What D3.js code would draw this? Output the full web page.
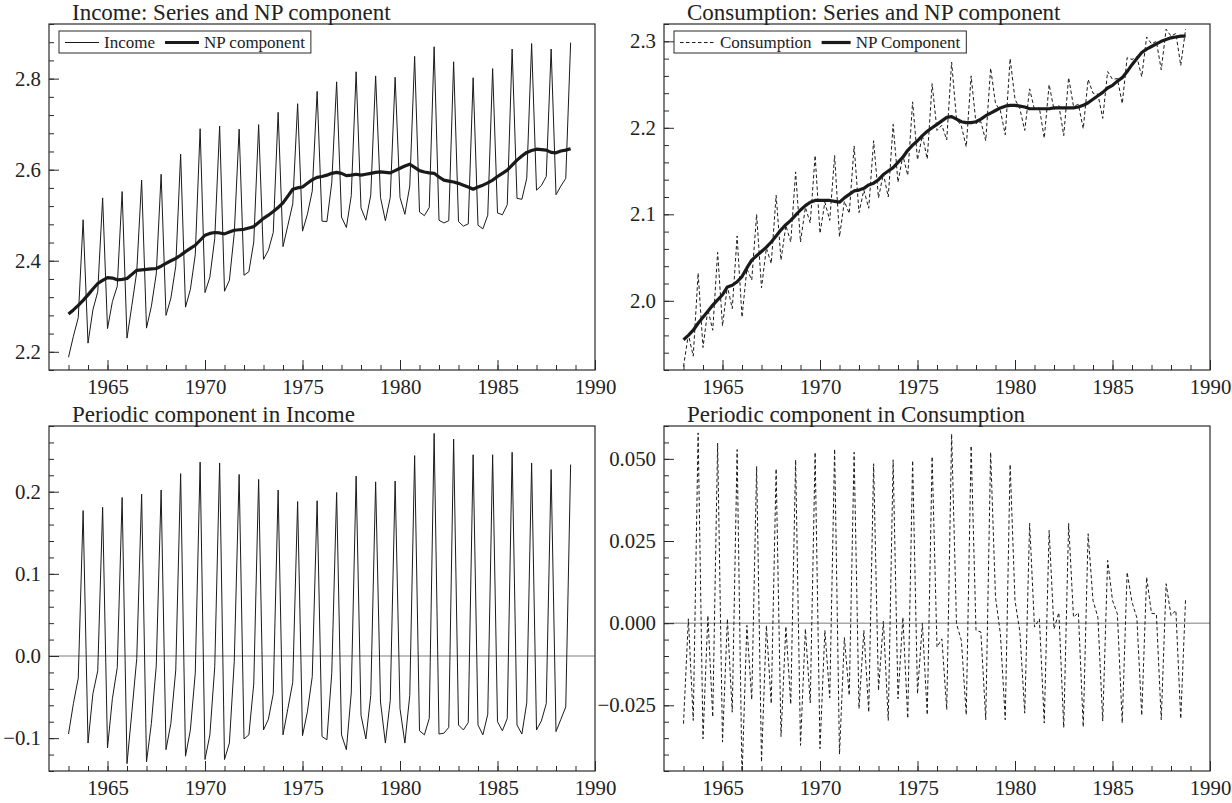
<!DOCTYPE html>
<html>
<head>
<meta charset="utf-8">
<script src="https://cdn.jsdelivr.net/npm/d3@7"></script>
<style>
  body { margin: 0; background: #fff; }
  svg text { font-family: "Liberation Serif", "Times New Roman", serif; fill: #222; }
</style>
</head>
<body>
<svg id="chart" width="1232" height="803"></svg>
<script>
// quarterly data, 1963Q1 .. 1988Q4
var startYear = 1963;

var incomeSeries = [
  2.188, 2.234, 2.275, 2.490,  2.219, 2.292, 2.332, 2.538,  2.251, 2.310, 2.344, 2.552,
  2.230, 2.302, 2.376, 2.577,  2.252, 2.300, 2.371, 2.590,  2.280, 2.318, 2.388, 2.634,
  2.298, 2.337, 2.413, 2.690,  2.330, 2.364, 2.449, 2.696,  2.333, 2.357, 2.460, 2.689,
  2.368, 2.376, 2.441, 2.699,  2.403, 2.423, 2.462, 2.726,  2.431, 2.478, 2.525, 2.745,
  2.465, 2.502, 2.553, 2.772,  2.487, 2.486, 2.571, 2.793,  2.496, 2.473, 2.543, 2.815,
  2.516, 2.489, 2.544, 2.806,  2.539, 2.488, 2.539, 2.803,  2.539, 2.502, 2.564, 2.849,
  2.507, 2.499, 2.517, 2.870,  2.489, 2.483, 2.488, 2.837,  2.486, 2.476, 2.481, 2.802,
  2.478, 2.470, 2.500, 2.822,  2.505, 2.501, 2.523, 2.865,  2.537, 2.535, 2.581, 2.877,
  2.555, 2.565, 2.585, 2.865,  2.545, 2.564, 2.581, 2.879
];

var incomeNP = [
  2.283, 2.292, 2.302, 2.313,  2.325, 2.338, 2.350, 2.357,  2.363, 2.362, 2.358, 2.359,
  2.361, 2.370, 2.379, 2.380,  2.381, 2.382, 2.383, 2.388,  2.394, 2.400, 2.405, 2.412,
  2.420, 2.427, 2.434, 2.445,  2.456, 2.460, 2.462, 2.461,  2.459, 2.463, 2.467, 2.468,
  2.469, 2.472, 2.475, 2.484,  2.493, 2.500, 2.508, 2.517,  2.527, 2.542, 2.557, 2.560,
  2.562, 2.570, 2.578, 2.583,  2.585, 2.588, 2.592, 2.594,  2.592, 2.587, 2.588, 2.590,
  2.588, 2.590, 2.592, 2.594,  2.595, 2.594, 2.593, 2.598,  2.603, 2.608, 2.612, 2.605,
  2.598, 2.595, 2.593, 2.592,  2.584, 2.577, 2.575, 2.573,  2.570, 2.566, 2.562, 2.557,
  2.562, 2.566, 2.571, 2.577,  2.585, 2.592, 2.599, 2.610,  2.621, 2.630, 2.638, 2.642,
  2.645, 2.644, 2.643, 2.638,  2.637, 2.641, 2.643, 2.646
];

var incomePeriodic = [
  -0.095, -0.058, -0.027, 0.177,  -0.106, -0.046, -0.018, 0.181,  -0.112, -0.052, -0.014, 0.193,
  -0.131, -0.068, -0.003, 0.197,  -0.129, -0.082, -0.012, 0.202,  -0.114, -0.082, -0.017, 0.222,
  -0.122, -0.090, -0.021, 0.236,  -0.126, -0.096, -0.013, 0.235,  -0.126, -0.106, -0.007, 0.221,
  -0.101, -0.096, -0.034, 0.215,  -0.090, -0.077, -0.046, 0.202,  -0.096, -0.064, -0.032, 0.188,
  -0.097, -0.068, -0.025, 0.189,  -0.098, -0.102, -0.021, 0.199,  -0.096, -0.114, -0.045, 0.219,
  -0.072, -0.101, -0.048, 0.212,  -0.056, -0.106, -0.054, 0.213,  -0.064, -0.106, -0.048, 0.244,
  -0.091, -0.096, -0.076, 0.271,  -0.095, -0.094, -0.087, 0.264,  -0.084, -0.090, -0.081, 0.245,
  -0.084, -0.096, -0.071, 0.245,  -0.080, -0.091, -0.076, 0.248,  -0.084, -0.095, -0.057, 0.235,
  -0.090, -0.079, -0.058, 0.227,  -0.092, -0.077, -0.062, 0.233
];

var consSeries = [
  1.924, 1.961, 1.936, 2.032,  1.946, 1.990, 1.966, 2.056,  1.971, 2.017, 1.991, 2.075,
  1.981, 2.037, 2.024, 2.100,  2.015, 2.061, 2.043, 2.122,  2.047, 2.087, 2.068, 2.149,
  2.068, 2.108, 2.090, 2.168,  2.078, 2.114, 2.093, 2.168,  2.074, 2.115, 2.101, 2.179,
  2.102, 2.128, 2.107, 2.185,  2.119, 2.147, 2.120, 2.204,  2.137, 2.168, 2.145, 2.230,
  2.163, 2.191, 2.164, 2.251,  2.197, 2.203, 2.186, 2.276,  2.210, 2.202, 2.178, 2.260,
  2.205, 2.207, 2.185, 2.269,  2.228, 2.220, 2.192, 2.280,  2.233, 2.222, 2.197, 2.245,
  2.221, 2.223, 2.188, 2.250,  2.221, 2.226, 2.191, 2.258,  2.225, 2.227, 2.199, 2.256,
  2.240, 2.239, 2.211, 2.265,  2.256, 2.257, 2.228, 2.281,  2.279, 2.282, 2.259, 2.305,
  2.297, 2.300, 2.267, 2.314,  2.306, 2.309, 2.272, 2.314
];

var consNP = [
  1.955, 1.960, 1.966, 1.974,  1.981, 1.988, 1.995, 2.001,  2.007, 2.016, 2.018, 2.022,
  2.028, 2.038, 2.047, 2.052,  2.057, 2.062, 2.068, 2.075,  2.082, 2.088, 2.093, 2.099,
  2.105, 2.110, 2.114, 2.116,  2.116, 2.116, 2.116, 2.115,  2.114, 2.119, 2.123, 2.127,
  2.128, 2.130, 2.134, 2.136,  2.140, 2.146, 2.150, 2.154,  2.160, 2.166, 2.174, 2.180,
  2.185, 2.191, 2.196, 2.200,  2.204, 2.208, 2.212, 2.213,  2.210, 2.207, 2.206, 2.206,
  2.207, 2.210, 2.214, 2.217,  2.220, 2.223, 2.225, 2.226,  2.226, 2.225, 2.224, 2.222,
  2.222, 2.222, 2.222, 2.222,  2.223, 2.223, 2.223, 2.223,  2.223, 2.224, 2.226, 2.229,
  2.233, 2.237, 2.241, 2.246,  2.249, 2.254, 2.258, 2.265,  2.273, 2.280, 2.287, 2.291,
  2.294, 2.297, 2.300, 2.302,  2.304, 2.305, 2.306, 2.306
];

var consPeriodic = [
  -0.0306, 0.0013, -0.0296, 0.0579,  -0.0352, 0.0023, -0.0286, 0.0548,  -0.0362, 0.0013, -0.0271, 0.0528,
  -0.0470, -0.0007, -0.0233, 0.0477,  -0.0423, -0.0007, -0.0245, 0.0470,  -0.0345, -0.0010, -0.0247, 0.0497,
  -0.0372, -0.0017, -0.0243, 0.0520,  -0.0382, -0.0022, -0.0227, 0.0530,  -0.0399, -0.0044, -0.0220, 0.0520,
  -0.0260, -0.0022, -0.0271, 0.0485,  -0.0205, 0.0006, -0.0296, 0.0497,  -0.0230, 0.0018, -0.0290, 0.0495,
  -0.0215, 0.0000, -0.0279, 0.0507,  -0.0073, -0.0048, -0.0263, 0.0576,  -0.0002, -0.0053, -0.0279, 0.0540,
  -0.0022, -0.0027, -0.0294, 0.0520,  0.0079, -0.0032, -0.0294, 0.0483,  0.0069, -0.0027, -0.0274, 0.0304,
  -0.0012, 0.0013, -0.0304, 0.0282,  -0.0018, 0.0032, -0.0318, 0.0304,  0.0018, 0.0032, -0.0316, 0.0272,
  0.0069, 0.0018, -0.0298, 0.0191,  0.0069, 0.0028, -0.0304, 0.0155,  0.0064, 0.0016, -0.0281, 0.0140,
  0.0030, 0.0028, -0.0294, 0.0120,  0.0023, 0.0039, -0.0291, 0.0077
];

var xMajor = [1965, 1970, 1975, 1980, 1985, 1990];
var xMinor = d3.range(1963, 1990);

var svg = d3.select("#chart");
var ink = "#2a2a2a";

var panels = [
  { title: "Income: Series and NP component", box: [49, 24, 546, 346],
    domain: [2.16, 2.92], major: [2.2, 2.4, 2.6, 2.8], minorStep: 0.04, fmt: ".1f",
    lines: [{ data: incomeSeries, width: 1 }, { data: incomeNP, width: 3.2 }],
    legend: [{ label: "Income", width: 1, len: 34 }, { label: "NP component", width: 3.2, len: 34 }] },
  { title: "Consumption: Series and NP component", box: [664, 24, 546, 346],
    domain: [1.92, 2.32], major: [2.0, 2.1, 2.2, 2.3], minorStep: 0.02, fmt: ".1f",
    lines: [{ data: consSeries, width: 1, dash: "3.5,2.5" }, { data: consNP, width: 3.2 }],
    legend: [{ label: "Consumption", width: 1, dash: "3.5,2.5", len: 35 }, { label: "NP Component", width: 3.2, len: 29 }] },
  { title: "Periodic component in Income", box: [49, 426, 546, 345],
    domain: [-0.14, 0.28], major: [-0.1, 0, 0.1, 0.2], minorStep: 0.02, fmt: ".1f", zero: true,
    lines: [{ data: incomePeriodic, width: 1 }] },
  { title: "Periodic component in Consumption", box: [664, 426, 546, 345],
    domain: [-0.045, 0.06], major: [-0.025, 0, 0.025, 0.05], minorStep: 0.005, fmt: ".3f", zero: true,
    lines: [{ data: consPeriodic, width: 1, dash: "3.5,2.5" }] }
];

panels.forEach(function (p, pi) {
  var left = p.box[0], top = p.box[1], w = p.box[2], h = p.box[3];
  var g = svg.append("g").attr("transform", "translate(" + left + "," + top + ")");

  var x = d3.scaleLinear().domain([1962, 1990]).range([0, w]);
  var y = d3.scaleLinear().domain(p.domain).range([h, 0]);

  g.append("clipPath").attr("id", "clip" + pi)
    .append("rect").attr("width", w).attr("height", h);

  if (p.zero) {
    g.append("line")
      .attr("x1", 0).attr("x2", w)
      .attr("y1", y(0)).attr("y2", y(0))
      .attr("stroke", "#a8a8a8").attr("stroke-width", 1.5);
  }

  var line = d3.line()
    .x(function (d, i) { return x(startYear + i / 4); })
    .y(function (d) { return y(d); });

  p.lines.forEach(function (l) {
    g.append("path")
      .datum(l.data)
      .attr("clip-path", "url(#clip" + pi + ")")
      .attr("fill", "none")
      .attr("stroke", "#1a1a1a")
      .attr("stroke-width", l.width)
      .attr("stroke-linejoin", "round")
      .attr("stroke-dasharray", l.dash || null)
      .attr("d", line);
  });

  // minor y ticks
  var n0 = Math.ceil(p.domain[0] / p.minorStep - 1e-6), n1 = Math.floor(p.domain[1] / p.minorStep + 1e-6);
  var yMinor = d3.range(n0, n1 + 1).map(function (k) { return k * p.minorStep; });

  var yAxis = d3.axisLeft(y).tickValues(yMinor).tickSize(-5).tickFormat("");
  g.append("g").call(yAxis);
  var yAxisMajor = d3.axisLeft(y).tickValues(p.major).tickSize(-10).tickPadding(8)
    .tickFormat(d3.format(p.fmt));
  g.append("g").call(yAxisMajor);

  var xAxis = d3.axisBottom(x).tickValues(xMinor).tickSize(-5).tickFormat("");
  g.append("g").attr("transform", "translate(0," + h + ")").call(xAxis);
  var xAxisMajor = d3.axisBottom(x).tickValues(xMajor).tickSize(-10).tickPadding(9.5)
    .tickFormat(d3.format("d"));
  g.append("g").attr("transform", "translate(0," + h + ")").call(xAxisMajor);

  g.selectAll(".domain").remove();
  g.selectAll(".tick line").attr("stroke", ink).attr("stroke-width", 1);
  g.selectAll(".tick text").attr("fill", ink).style("font-size", "20.8px")
    .style("font-family", "'Liberation Serif', 'Times New Roman', serif");

  // frame
  g.append("rect")
    .attr("width", w).attr("height", h)
    .attr("fill", "none").attr("stroke", ink).attr("stroke-width", 1.2);

  g.append("text")
    .attr("x", 23).attr("y", -4.5)
    .style("font-size", "23px")
    .text(p.title);

  if (p.legend) {
    var lg = g.append("g").attr("transform", "translate(10,7)");
    var box = lg.append("rect")
      .attr("height", 22).attr("y", 0)
      .attr("fill", "#fff").attr("stroke", ink).attr("stroke-width", 1);
    var cx = 6;
    p.legend.forEach(function (item, k) {
      lg.append("line")
        .attr("x1", cx).attr("x2", cx + item.len)
        .attr("y1", 11.5).attr("y2", 11.5)
        .attr("stroke", "#1a1a1a").attr("stroke-width", item.width)
        .attr("stroke-dasharray", item.dash || null);
      var t = lg.append("text")
        .attr("x", cx + item.len + 5).attr("y", 17.3)
        .style("font-size", "17px")
        .text(item.label);
      cx += item.len + 5 + t.node().getComputedTextLength() + 10;
    });
    box.attr("width", cx - 10 + 6);
  }
});
</script>
</body>
</html>
